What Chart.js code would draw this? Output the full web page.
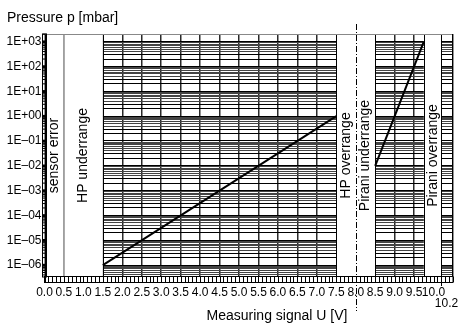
<!DOCTYPE html>
<html>
<head>
<meta charset="utf-8">
<script src="https://cdn.jsdelivr.net/npm/chart.js@4.4.1/dist/chart.umd.min.js"></script>
<style>
body { margin: 0; background: #fff; }
canvas { display: block; }
</style>
</head>
<body>
<canvas id="chart" width="461" height="324"></canvas>
<script>
// measured curves (signal U in V, pressure p in mbar)
const hpU = [1.5, 7.5];
const hpP = [1e-6, 1];
const piraniU = [8.5, 9.75];
const piraniP = [1e-2, 1e3];

// axis ticks
const xTicks = [0, 0.5, 1, 1.5, 2, 2.5, 3, 3.5, 4, 4.5, 5, 5.5, 6, 6.5, 7, 7.5, 8, 8.5, 9, 9.5, 10, 10.5];
const xTickLabels = ["0.0", "0.5", "1.0", "1.5", "2.0", "2.5", "3.0", "3.5", "4.0", "4.5", "5.0",
  "5.5", "6.0", "6.5", "7.0", "7.5", "8.0", "8.5", "9.0", "9.5", "10.0", ""];
const yDecades = [-7, -6, -5, -4, -3, -2, -1, 0, 1, 2, 3];
const yDecadeLabels = ["", "1E\u201306", "1E\u201305", "1E\u201304", "1E\u201303", "1E\u201302", "1E\u201301",
  "1E+00", "1E+01", "1E+02", "1E+03"];

// signal ranges without a valid reading
const blankRanges = [[0, 1.5], [7.5, 8.5], [9.75, 10.2]];
const rangeNames = ["sensor error", "HP underrange", "HP overrange", "Pirani underrange", "Pirani overrange"];
const rangeMid = [0.25, 1.0, 7.75, 8.25, 9.975];

const FONT = "'Liberation Sans', Arial, sans-serif";
const yMin = 3.3e-7, yMax = 2040;

function mantissa(v) {
  const e = Math.floor(Math.log10(v) + 1e-9);
  return Math.round(v / Math.pow(10, e));
}

const yTickValues = [];
yDecades.forEach(d => {
  for (let m = 1; m <= 9; m++) {
    const v = m * Math.pow(10, d);
    if (v >= yMin && v <= yMax) yTickValues.push(v);
  }
});

const overlay = {
  id: "overlay",
  beforeDatasetsDraw(chart) {
    const { ctx, chartArea: a, scales: { x, y } } = chart;
    ctx.save();
    // white blocks over the grid
    blankRanges.forEach(([u0, u1]) => {
      const l = x.getPixelForValue(u0), r = x.getPixelForValue(u1);
      ctx.fillStyle = "#fff";
      ctx.fillRect(l, a.top, r - l, a.bottom - a.top);
      ctx.strokeStyle = "#000";
      ctx.lineWidth = 1;
      ctx.beginPath();
      ctx.moveTo(Math.round(l) + 0.5, a.top);
      ctx.lineTo(Math.round(l) + 0.5, a.bottom);
      ctx.moveTo(Math.round(r) + 0.5, a.top);
      ctx.lineTo(Math.round(r) + 0.5, a.bottom);
      ctx.stroke();
    });
    // grey separator at 0.5 V
    const g = x.getPixelForValue(0.5);
    ctx.strokeStyle = "#888";
    ctx.lineWidth = 1.5;
    ctx.beginPath();
    ctx.moveTo(g, a.top);
    ctx.lineTo(g, a.bottom);
    ctx.stroke();
    // frame
    ctx.lineWidth = 1;
    ctx.strokeStyle = "#888";
    ctx.beginPath();
    ctx.moveTo(a.left, Math.round(a.top) + 0.5);
    ctx.lineTo(a.right, Math.round(a.top) + 0.5);
    ctx.stroke();
    ctx.strokeStyle = "#000";
    ctx.beginPath();
    ctx.moveTo(a.left, Math.round(a.bottom) - 0.5);
    ctx.lineTo(a.right, Math.round(a.bottom) - 0.5);
    ctx.moveTo(Math.round(a.right) - 0.5, a.top);
    ctx.lineTo(Math.round(a.right) - 0.5, a.bottom);
    ctx.stroke();
    // range names, vertical
    ctx.fillStyle = "#000";
    ctx.font = "14px " + FONT;
    ctx.textAlign = "center";
    ctx.textBaseline = "alphabetic";
    const cy = (a.top + a.bottom) / 2;
    rangeNames.forEach((t, i) => {
      const bx = x.getPixelForValue(rangeMid[i]) + 4;
      ctx.save();
      ctx.translate(bx, cy);
      ctx.rotate(-Math.PI / 2);
      ctx.fillText(t, 0, 0);
      ctx.restore();
    });
    ctx.restore();
  },
  afterDraw(chart) {
    const { ctx, chartArea: a, scales: { x, y } } = chart;
    ctx.save();
    ctx.strokeStyle = "#000";
    ctx.lineWidth = 1;
    // left ruler
    ctx.strokeRect(42.5, a.top, 4, a.bottom - a.top);
    yTickValues.forEach(v => {
      const py = y.getPixelForValue(v);
      ctx.lineWidth = mantissa(v) === 1 ? 2.5 : 1;
      ctx.beginPath();
      ctx.moveTo(42.5, py);
      ctx.lineTo(46.5, py);
      ctx.stroke();
    });
    // bottom ruler
    ctx.lineWidth = 1;
    const rb = Math.round(a.bottom);
    ctx.strokeRect(a.left, rb - 0.5, a.right - a.left, 6);
    for (let k = 0; k <= 105; k++) {
      const px = Math.round(x.getPixelForValue(k / 10)) + 0.5;
      ctx.beginPath();
      ctx.moveTo(px, rb);
      ctx.lineTo(px, rb + 5);
      ctx.stroke();
    }
    // long tick + label at 10.2
    const p102 = Math.round(x.getPixelForValue(10.2)) + 0.5;
    ctx.beginPath();
    ctx.moveTo(p102, rb);
    ctx.lineTo(p102, rb + 9);
    ctx.stroke();
    ctx.fillStyle = "#000";
    ctx.font = "12px " + FONT;
    ctx.textAlign = "center";
    ctx.textBaseline = "middle";
    ctx.fillText("10.2", p102 + 5, 304);
    // dash-dot line at 8.0 V
    const p8 = Math.round(x.getPixelForValue(8)) + 0.5;
    ctx.setLineDash([6, 2, 1, 2]);
    ctx.beginPath();
    ctx.moveTo(p8, 24);
    ctx.lineTo(p8, 311);
    ctx.stroke();
    ctx.setLineDash([]);
    // titles
    ctx.font = "14px " + FONT;
    ctx.textAlign = "left";
    ctx.fillText("Pressure p [mbar]", 7, 18);
    ctx.textAlign = "center";
    ctx.fillText("Measuring signal U [V]", 277, 316);
    ctx.restore();
  }
};

new Chart(document.getElementById("chart"), {
  type: "line",
  data: {
    datasets: [
      {
        label: "HP",
        data: hpU.map((u, i) => ({ x: u, y: hpP[i] })),
        borderColor: "#000",
        borderWidth: 2,
        pointRadius: 0,
        fill: false
      },
      {
        label: "Pirani",
        data: piraniU.map((u, i) => ({ x: u, y: piraniP[i] })),
        borderColor: "#000",
        borderWidth: 2,
        pointRadius: 0,
        fill: false
      }
    ]
  },
  options: {
    responsive: false,
    animation: false,
    layout: { padding: { top: 34, right: 2, left: 0, bottom: 0 } },
    plugins: { legend: { display: false }, tooltip: { enabled: false } },
    scales: {
      x: {
        type: "linear",
        min: 0,
        max: 10.5,
        afterBuildTicks: s => { s.ticks = xTicks.map(v => ({ value: v })); },
        afterFit: s => { s.height = 47; },
        grid: { color: "#2a2a2a", lineWidth: 1.5, drawTicks: false },
        border: { display: false },
        ticks: {
          autoSkip: false,
          maxRotation: 0,
          minRotation: 0,
          padding: 8,
          color: "#000",
          font: { family: FONT, size: 12 },
          callback: (v, i) => xTickLabels[i]
        }
      },
      y: {
        type: "logarithmic",
        min: yMin,
        max: yMax,
        afterBuildTicks: s => { s.ticks = yTickValues.map(v => ({ value: v })); },
        afterFit: s => { s.width = 44.5; },
        grid: {
          color: c => (c.tick && mantissa(c.tick.value) <= 3 ? "#000" : "#444"),
          lineWidth: 1,
          drawTicks: false
        },
        border: { display: false },
        ticks: {
          autoSkip: false,
          padding: 3,
          color: "#000",
          font: { family: FONT, size: 12 },
          callback: v => {
            if (mantissa(v) !== 1) return "";
            const d = Math.round(Math.log10(v));
            return yDecadeLabels[yDecades.indexOf(d)];
          }
        }
      }
    }
  },
  plugins: [overlay]
});
</script>
</body>
</html>
